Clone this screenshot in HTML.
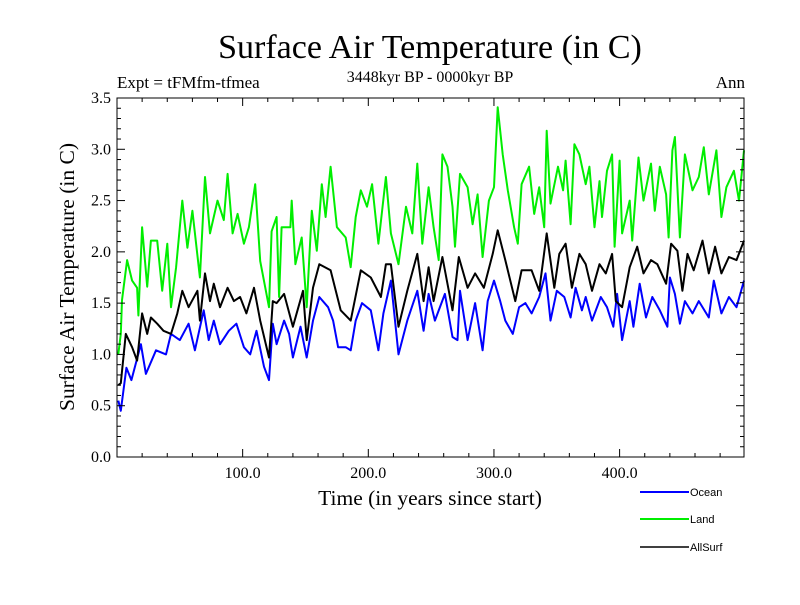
<!DOCTYPE html>
<html><head><meta charset="utf-8"><style>
body{margin:0;background:#fff}
svg text{font-family:"Liberation Serif",serif}
</style></head><body>
<svg id="c" width="800" height="600" xmlns="http://www.w3.org/2000/svg">
<text x="430" y="58" font-size="34" text-anchor="middle">Surface Air Temperature (in C)</text>
<text x="117" y="88" font-size="17">Expt = tFMfm-tfmea</text>
<text x="430" y="82" font-size="16" text-anchor="middle">3448kyr BP - 0000kyr BP</text>
<text x="745" y="88" font-size="17" text-anchor="end">Ann</text>
<text transform="translate(74,277) rotate(-90)" font-size="21.5" text-anchor="middle">Surface Air Temperature (in C)</text>
<text x="430" y="505" font-size="21.5" text-anchor="middle">Time (in years since start)</text>
<g id="plot"></g>
<g id="axes"></g>
<g id="legend"></g>
</svg>
<script>
const xTicks=[100,200,300,400];
const xTickLabels=["100.0","200.0","300.0","400.0"];
const yTicks=[0,0.5,1,1.5,2,2.5,3,3.5];
const yTickLabels=["0.0","0.5","1.0","1.5","2.0","2.5","3.0","3.5"];
const seriesNames=["Ocean","Land","AllSurf"];
const oceanYears=[1,3,7.5,11.5,19,23,31,39,43,50,57,62,69,73,77,82,89,95,101,106,111,117,121,124,127,133,137,140,146,151,156,161,168,172,176,182,186,190,195,202,208,212,218,224,231,239,244,248,253,261,267,271,273,279,285,291,295,300,305,309,315,320,325,330,336,341,345,350,356,361,365,370,373,378,385,390,395,398,402,408,411,416,421,426,432,438,440,444,448,452,458,463,471,475,481,487,493,499];
const oceanVals=[0.55,0.45,0.87,0.75,1.1,0.81,1.04,1.0,1.2,1.14,1.3,1.04,1.43,1.14,1.33,1.1,1.23,1.3,1.07,1.0,1.23,0.88,0.75,1.3,1.1,1.33,1.2,0.97,1.27,0.97,1.33,1.56,1.46,1.33,1.07,1.07,1.04,1.33,1.5,1.43,1.04,1.4,1.72,1.0,1.33,1.62,1.23,1.59,1.33,1.59,1.17,1.14,1.62,1.14,1.5,1.04,1.52,1.72,1.52,1.33,1.2,1.46,1.5,1.4,1.56,1.79,1.33,1.62,1.56,1.36,1.65,1.43,1.56,1.33,1.56,1.46,1.27,1.59,1.14,1.52,1.27,1.69,1.36,1.56,1.43,1.27,1.75,1.59,1.3,1.52,1.4,1.52,1.36,1.72,1.4,1.56,1.46,1.72];
const landYears=[1,3,4,8,12,16,17,20,24,27,32,36,40,43,47,52,56,60,66,70,74,80,85,88,92,96,101,105,110,114,121,123,127,129,131,138,139,142,147,151,155,159,163,166,170,175,182,186,190,194,199,203,208,214,218,224,230,235,239,243,248,252,256,259,263,267,269,273,279,283,287,291,296,300,303,307,311,316,319,322,328,332,336,340,342,345,351,355,357,361,364,368,373,376,380,384,386,390,394,396,400,402,408,410,415,419,425,428,432,437,439,442,444,448,452,458,463,467,471,477,481,485,491,495,499];
const landVals=[1.0,1.2,1.53,1.92,1.72,1.65,1.38,2.24,1.66,2.11,2.11,1.62,2.08,1.46,1.85,2.5,2.04,2.4,1.75,2.73,2.18,2.5,2.31,2.76,2.18,2.37,2.08,2.24,2.66,1.91,1.46,2.2,2.34,1.56,2.24,2.24,2.5,1.88,2.14,1.46,2.4,2.01,2.66,2.34,2.83,2.24,2.14,1.85,2.34,2.6,2.44,2.66,2.08,2.73,2.18,1.88,2.44,2.18,2.86,2.08,2.63,2.24,1.92,2.95,2.83,2.44,2.05,2.76,2.63,2.27,2.56,1.95,2.5,2.63,3.41,2.95,2.6,2.24,2.08,2.66,2.83,2.37,2.63,2.24,3.18,2.47,2.83,2.6,2.89,2.27,3.05,2.95,2.66,2.83,2.24,2.69,2.34,2.79,2.95,2.05,2.89,2.18,2.5,2.11,2.92,2.5,2.86,2.4,2.83,2.56,2.14,2.99,3.12,2.14,2.95,2.6,2.73,3.02,2.56,2.99,2.34,2.63,2.79,2.5,2.99];
const allYears=[1,3,7,12,16,20,24,27,32,37,43,48,52,57,64,66,70,74,77,82,88,93,98,103,109,114,121,124,127,133,140,148,151,156,161,170,178,186,194,202,210,214,218,224,231,239,244,248,252,259,267,272,279,285,292,299,303,309,317,322,330,336,342,348,352,357,362,368,373,378,384,389,394,397,402,408,414,419,425,430,437,441,446,450,454,459,466,471,476,481,487,493,499];
const allVals=[0.7,0.72,1.2,1.07,0.94,1.4,1.2,1.36,1.3,1.23,1.2,1.4,1.62,1.46,1.62,1.33,1.79,1.52,1.69,1.46,1.65,1.52,1.56,1.4,1.65,1.33,0.97,1.52,1.5,1.59,1.27,1.62,1.14,1.65,1.88,1.82,1.43,1.33,1.82,1.75,1.56,1.88,1.88,1.27,1.62,1.98,1.52,1.85,1.52,1.95,1.43,1.95,1.65,1.79,1.65,1.98,2.21,1.92,1.52,1.82,1.82,1.62,2.18,1.65,1.98,2.08,1.65,1.98,1.88,1.62,1.88,1.79,1.98,1.52,1.46,1.85,2.05,1.79,1.92,1.88,1.69,2.08,2.01,1.62,1.98,1.82,2.11,1.79,2.05,1.79,1.95,1.92,2.11];

const L=117,R=744,T=98,B=457,X0=0,X1=499,Y0=0,Y1=3.5;
const sx=v=>L+(v-X0)/(X1-X0)*(R-L);
const sy=v=>B-(v-Y0)/(Y1-Y0)*(B-T);
const NS="http://www.w3.org/2000/svg";
function mk(tag,attrs,parent){const e=document.createElementNS(NS,tag);for(const k in attrs)e.setAttribute(k,attrs[k]);parent.appendChild(e);return e;}
const plot=document.getElementById('plot'),axes=document.getElementById('axes'),legend=document.getElementById('legend');
const colors=["#0000ff","#00ee00","#000000"];
const data=[[oceanYears,oceanVals],[landYears,landVals],[allYears,allVals]];
const order=[1,0,2];
order.forEach(i=>{
  const [xs,ys]=data[i];
  const d=xs.map((x,j)=>(j?'L':'M')+sx(x).toFixed(1)+','+sy(ys[j]).toFixed(1)).join('');
  const p=mk('path',{d:d,fill:'none',stroke:colors[i],'stroke-width':2,'stroke-linejoin':'round'},plot);
  
  
});
const fr=mk('rect',{x:L,y:T,width:R-L,height:B-T,fill:'none',stroke:'#000','stroke-width':1},axes);


for(let v=20;v<X1;v+=20){
  const maj=v%100===0,len=maj?8:4,x=sx(v);
  mk('line',{x1:x,y1:B,x2:x,y2:B-len,stroke:'#000'},axes);
  mk('line',{x1:x,y1:T,x2:x,y2:T+len,stroke:'#000'},axes);
}
for(let k=1;k<35;k++){
  const v=k/10,maj=k%5===0,len=maj?8:4,y=sy(v);
  mk('line',{x1:L,y1:y,x2:L+len,y2:y,stroke:'#000'},axes);
  mk('line',{x1:R,y1:y,x2:R-len,y2:y,stroke:'#000'},axes);
}
xTicks.forEach((v,i)=>{
  const t=mk('text',{x:sx(v),y:B+21,'font-size':16,'text-anchor':'middle'},axes);
  t.textContent=xTickLabels[i];
  
  
});
yTicks.forEach((v,i)=>{
  const t=mk('text',{x:L-6,y:sy(v)+5,'font-size':16,'text-anchor':'end'},axes);
  t.textContent=yTickLabels[i];
  
  
});
const ly=[492,519,547];
[0,1,2].forEach(i=>{
  const g=mk('g',{},legend);
  
  
  mk('line',{x1:640,y1:ly[i],x2:689,y2:ly[i],stroke:colors[i],'stroke-width':i===2?1.5:2},g);
  const t=mk('text',{x:690,y:ly[i]+4,'font-size':11,style:'font-family:"Liberation Sans",sans-serif'},g);
  t.textContent=seriesNames[i];
});
</script>
</body></html>
